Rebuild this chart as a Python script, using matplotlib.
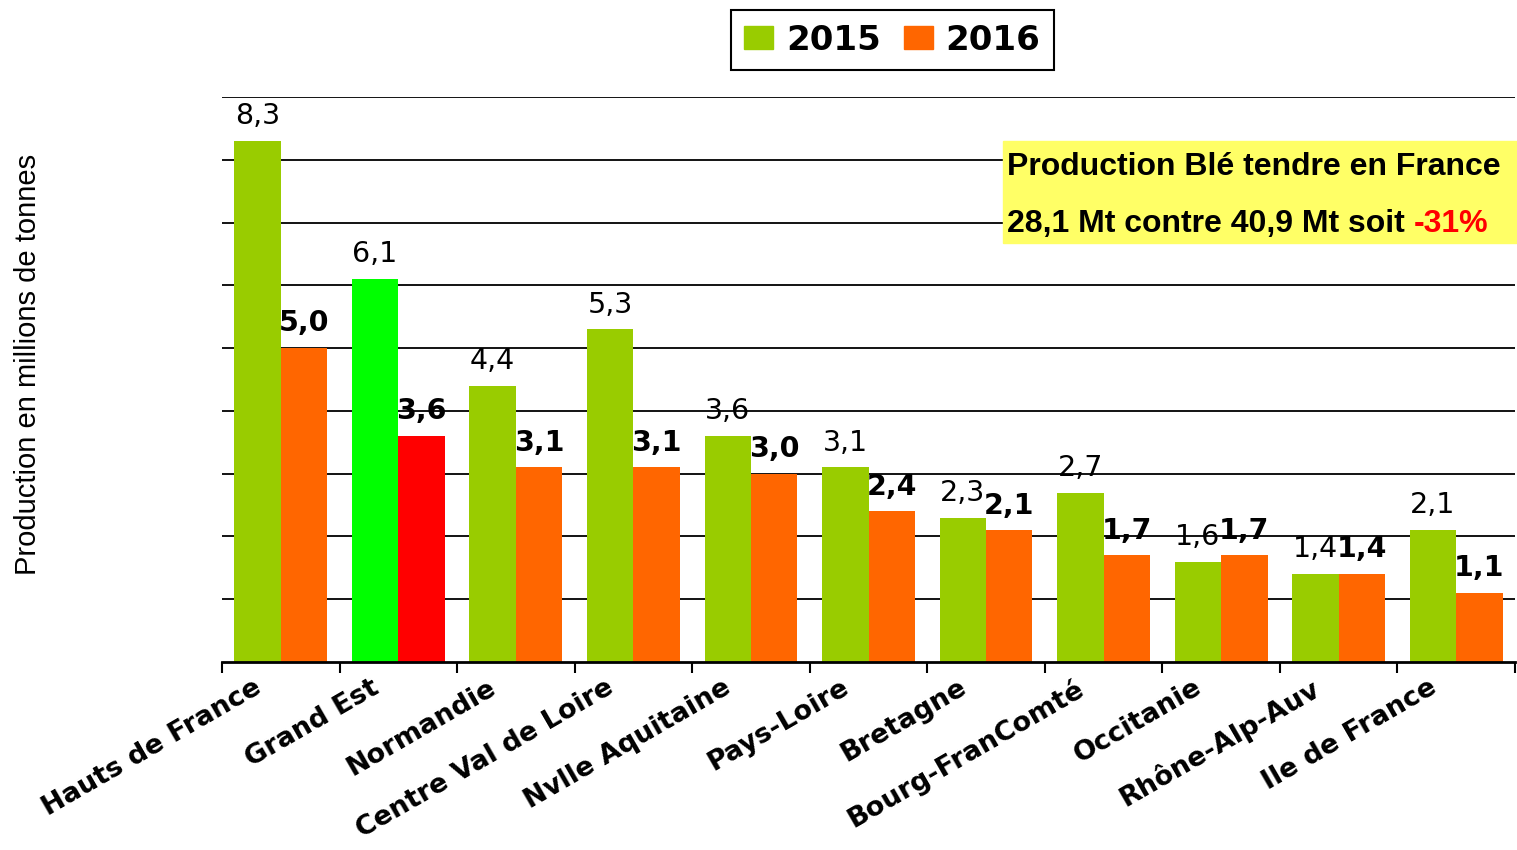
import matplotlib
matplotlib.use('Agg')
import matplotlib.pyplot as plt
from matplotlib.patches import Patch, Rectangle
from matplotlib import font_manager
import numpy as np

regions = ['Hauts de France', 'Grand Est', 'Normandie', 'Centre Val de Loire', 'Nvlle Aquitaine',
           'Pays-Loire', 'Bretagne', 'Bourg-FranComté', 'Occitanie', 'Rhône-Alp-Auv', 'Ile de France']
prod_2015 = [8.3, 6.1, 4.4, 5.3, 3.6, 3.1, 2.3, 2.7, 1.6, 1.4, 2.1]
prod_2016 = [5.0, 3.6, 3.1, 3.1, 3.0, 2.4, 2.1, 1.7, 1.7, 1.4, 1.1]
years = ['2015', '2016']
highlight = 'Grand Est'
total_2015 = '40,9'
total_2016 = '28,1'
change = '-31%'

green = '#99CC00'
orange = '#FF6600'
green_hl = '#00FF00'
red_hl = '#FF0000'

W, H = 1517, 850
fig = plt.figure(figsize=(W / 100, H / 100), dpi=100)
ax = fig.add_axes([222 / W, 1 - 662 / H, (1515 - 222) / W, (662 - 97) / H])

x = np.arange(len(regions))
w = 0.395
c15 = [green_hl if r == highlight else green for r in regions]
c16 = [red_hl if r == highlight else orange for r in regions]
ax.bar(x - w / 2, prod_2015, w, color=c15, zorder=2)
ax.bar(x + w / 2, prod_2016, w, color=c16, zorder=2)

def fmt(v):
    return f'{v:.1f}'.replace('.', ',')

for i in range(len(regions)):
    ax.annotate(fmt(prod_2015[i]), (x[i] - w / 2, prod_2015[i]), xytext=(0, 12), textcoords='offset points',
                ha='center', va='baseline', fontsize=20.5, zorder=5)
    ax.annotate(fmt(prod_2016[i]), (x[i] + w / 2, prod_2016[i]), xytext=(0, 12), textcoords='offset points',
                ha='center', va='baseline', fontsize=20.5, fontweight='bold', zorder=5)

ax.set_xlim(-0.5, len(regions) - 0.5)
ax.set_ylim(0, 9)
ax.set_yticks(np.arange(1, 10))
ax.yaxis.grid(True, color='black', lw=1.3)
ax.set_axisbelow(True)
ax.tick_params(axis='y', length=0, labelleft=False)
for s in ['left', 'top', 'right']:
    ax.spines[s].set_visible(False)
ax.spines['bottom'].set_linewidth(2)
ax.set_xticks(np.arange(-0.5, len(regions)))
ax.tick_params(axis='x', direction='out', length=8, width=1.5, labelbottom=False)

for i, r in enumerate(regions):
    ax.text(i - 0.24, -0.022, r, transform=ax.get_xaxis_transform(), rotation=30, rotation_mode='anchor',
            ha='right', va='top', fontsize=19.5, fontweight='bold')

# y label: narrow font if we have it
names = {f.name for f in font_manager.fontManager.ttflist}
if 'Liberation Sans Narrow' in names:
    fig.text(28 / W, 1 - 364 / H, 'Production en millions de tonnes', rotation=90, ha='center', va='center',
             fontsize=24, family='Liberation Sans Narrow')
else:
    fig.text(28 / W, 1 - 364 / H, 'Production en millions de tonnes', rotation=90, ha='center', va='center',
             fontsize=21, family='Liberation Sans')

handles = [Patch(color=green, label=years[0]), Patch(color=orange, label=years[1])]
leg = fig.legend(handles=handles, loc='center', bbox_to_anchor=(892.5 / W, 1 - 40 / H), ncol=2,
                 prop=dict(weight='bold', size=24.5), frameon=True, fancybox=False, edgecolor='black',
                 framealpha=1, handlelength=0.85, handleheight=0.68, handletextpad=0.38,
                 columnspacing=0.67, borderpad=0.4, borderaxespad=0)
leg.get_frame().set_linewidth(1.5)

fig.patches.append(Rectangle((1003 / W, 1 - 243 / H), (W - 1003) / W, 102 / H, transform=fig.transFigure,
                             color='#FFFF66', zorder=3))
fig.text(1007 / W, 1 - 175 / H, 'Production Blé tendre en France', fontsize=23, fontweight='bold',
         family='Liberation Sans', va='baseline', zorder=4)
t2 = fig.text(1007 / W, 1 - 232 / H, f'{total_2016} Mt contre {total_2015} Mt soit ', fontsize=23,
              fontweight='bold', family='Liberation Sans', va='baseline', zorder=4)
fig.canvas.draw()
bb = t2.get_window_extent()
fig.text(bb.x1 / W, 1 - 232 / H, change, fontsize=23, fontweight='bold', family='Liberation Sans',
         color='#FF0000', va='baseline', zorder=4)

fig.savefig('out.png', dpi=100, facecolor='white')
